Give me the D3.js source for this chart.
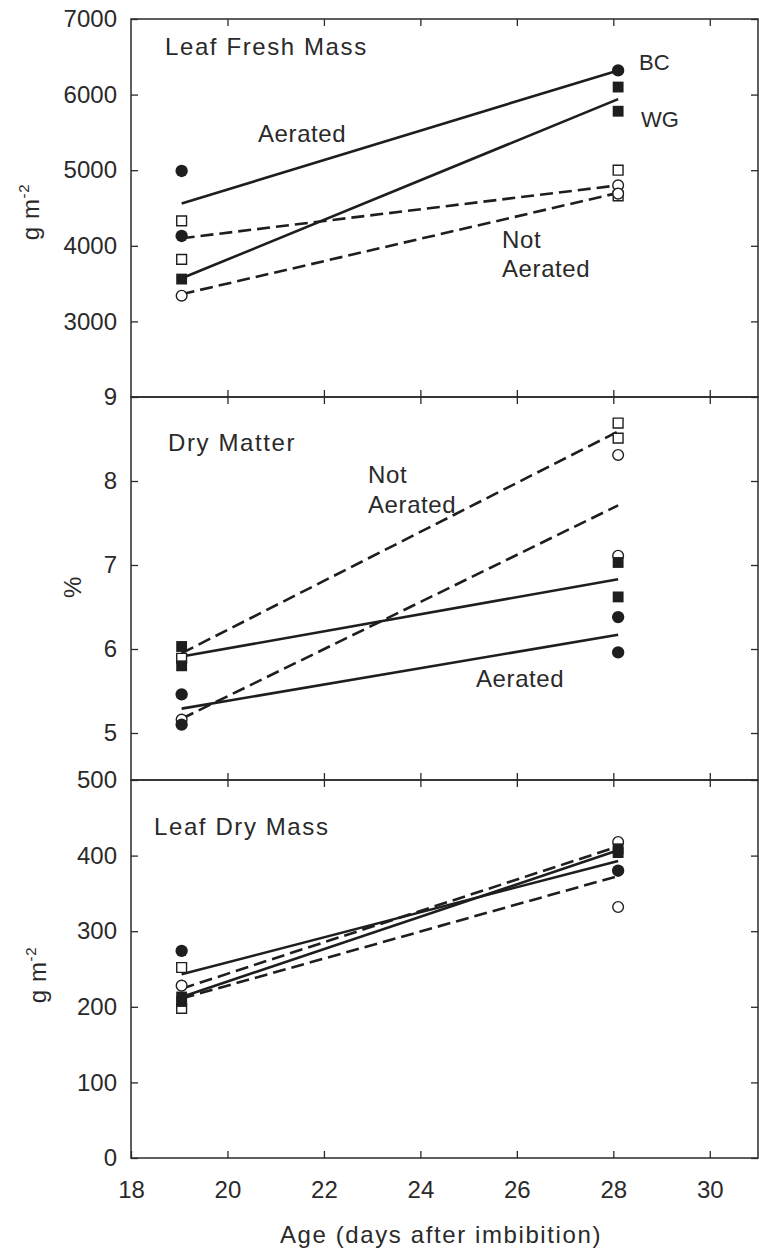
<!DOCTYPE html>
<html>
<head>
<meta charset="utf-8">
<script src="https://cdn.jsdelivr.net/npm/d3@7"></script>
<style>
    body { margin: 0; background: #fff; }
    svg { display: block; font-family: "Liberation Sans", Arial, sans-serif; }
    .tick line { stroke: #2a2a2a; stroke-width: 1.3; }
    .tick text { fill: #2a2a2a; font-size: 24px; }
    .label { fill: #2a2a2a; font-size: 24px; letter-spacing: 0.6px; }
    .label.title { letter-spacing: 1.6px; }
    .label.small { font-size: 22px; letter-spacing: 0; }
</style>
</head>
<body>
<div id="chart"></div>
<script>
// x: age in days after imbibition
const dayDomain = [18, 31];
const dayTicks = [18, 20, 22, 24, 26, 28, 30];
const sampleDays = [19.05, 28.1];

// group codes: cultivar (BC / WG) + aeration (A = aerated, N = not aerated)
// Leaf fresh mass (g m-2)
const freshTicks = [3000, 4000, 5000, 6000, 7000];
const freshPoints = [
    {day: 0, group: "BC-A", value: 4990},
    {day: 0, group: "WG-N", value: 4330},
    {day: 0, group: "BC-A", value: 4130},
    {day: 0, group: "WG-N", value: 3820},
    {day: 0, group: "WG-A", value: 3560},
    {day: 0, group: "BC-N", value: 3340},
    {day: 1, group: "BC-A", value: 6320},
    {day: 1, group: "WG-A", value: 6100},
    {day: 1, group: "WG-A", value: 5780},
    {day: 1, group: "WG-N", value: 5000},
    {day: 1, group: "WG-N", value: 4660},
    {day: 1, group: "BC-N", value: 4800},
    {day: 1, group: "BC-N", value: 4690}
];
const freshLines = [
    {aeration: "A", values: [4560, 6320]},
    {aeration: "A", values: [3570, 5940]},
    {aeration: "N", values: [4100, 4800]},
    {aeration: "N", values: [3360, 4700]}
];

// Dry matter (%)
const dryTicks = [5, 6, 7, 8, 9];
const dryPoints = [
    {day: 0, group: "WG-A", value: 6.03},
    {day: 0, group: "WG-N", value: 5.89},
    {day: 0, group: "WG-A", value: 5.80},
    {day: 0, group: "BC-A", value: 5.46},
    {day: 0, group: "BC-N", value: 5.16},
    {day: 0, group: "BC-A", value: 5.10},
    {day: 1, group: "WG-N", value: 8.69},
    {day: 1, group: "WG-N", value: 8.51},
    {day: 1, group: "BC-N", value: 8.31},
    {day: 1, group: "BC-N", value: 7.11},
    {day: 1, group: "WG-A", value: 7.03},
    {day: 1, group: "WG-A", value: 6.62},
    {day: 1, group: "BC-A", value: 6.38},
    {day: 1, group: "BC-A", value: 5.96}
];
const dryLines = [
    {aeration: "N", values: [5.95, 8.59]},
    {aeration: "N", values: [5.17, 7.71]},
    {aeration: "A", values: [5.91, 6.83]},
    {aeration: "A", values: [5.29, 6.17]}
];

// Leaf dry mass (g m-2)
const massTicks = [0, 100, 200, 300, 400, 500];
const massPoints = [
    {day: 0, group: "BC-A", value: 274},
    {day: 0, group: "WG-N", value: 252},
    {day: 0, group: "BC-N", value: 228},
    {day: 0, group: "WG-N", value: 198},
    {day: 0, group: "WG-A", value: 213},
    {day: 0, group: "WG-A", value: 207},
    {day: 1, group: "BC-N", value: 418},
    {day: 1, group: "WG-A", value: 409},
    {day: 1, group: "WG-A", value: 404},
    {day: 1, group: "BC-A", value: 380},
    {day: 1, group: "BC-N", value: 332}
];
const massLines = [
    {aeration: "N", values: [224, 412]},
    {aeration: "A", values: [213, 407]},
    {aeration: "A", values: [243, 393]},
    {aeration: "N", values: [211, 373]}
];

const width = 759, height = 1255;
const left = 131, right = 758;

const svg = d3.select("#chart").append("svg")
    .attr("width", width)
    .attr("height", height);

const x = d3.scaleLinear().domain(dayDomain).range([left, right]);

class Panel {
    constructor(cfg) {
        this.cfg = cfg;
        this.initVis();
    }

    initVis() {
        let vis = this;
        let c = vis.cfg;

        vis.y = d3.scaleLinear().domain(c.domain).range([c.bottom, c.top]);
        vis.g = svg.append("g");

        // frame
        vis.g.append("rect")
            .attr("x", left).attr("y", c.top)
            .attr("width", right - left).attr("height", c.bottom - c.top)
            .attr("fill", "none")
            .attr("stroke", "#2a2a2a")
            .attr("stroke-width", 1.5);

        // inward ticks on all four sides
        vis.g.append("g")
            .attr("transform", `translate(${left},0)`)
            .call(d3.axisLeft(vis.y).tickValues(c.ticks).tickFormat(d3.format("d"))
                .tickSizeInner(-7).tickSizeOuter(0).tickPadding(14))
            .call(g => g.select(".domain").remove())
            .call(g => g.selectAll(".tick text").attr("font-family", null).attr("font-size", null));

        vis.g.append("g")
            .attr("transform", `translate(${right},0)`)
            .call(d3.axisRight(vis.y).tickValues(c.ticks).tickSizeInner(-7).tickSizeOuter(0).tickFormat(""))
            .call(g => g.select(".domain").remove());

        vis.g.append("g")
            .attr("transform", `translate(0,${c.top})`)
            .call(d3.axisTop(x).tickValues(dayTicks.slice(1)).tickSizeInner(-7).tickSizeOuter(0).tickFormat(""))
            .call(g => g.select(".domain").remove());

        let bottomAxis = d3.axisBottom(x).tickSizeInner(-7).tickSizeOuter(0).tickPadding(23);
        if (c.showX) bottomAxis.tickValues(dayTicks).tickFormat(d3.format("d"));
        else bottomAxis.tickValues(dayTicks.slice(1)).tickFormat("");
        vis.g.append("g")
            .attr("transform", `translate(0,${c.bottom})`)
            .call(bottomAxis)
            .call(g => g.select(".domain").remove())
            .call(g => g.selectAll(".tick text").attr("font-family", null).attr("font-size", null));

        vis.updateVis();
    }

    updateVis() {
        let vis = this;
        let c = vis.cfg;

        // fitted lines, solid = aerated, dashed = not aerated
        vis.g.selectAll(".fit")
            .data(c.lines)
            .join("line")
            .attr("class", "fit")
            .attr("x1", x(sampleDays[0]))
            .attr("x2", x(sampleDays[1]))
            .attr("y1", d => vis.y(d.values[0]))
            .attr("y2", d => vis.y(d.values[1]))
            .attr("stroke", "#1e1e1e")
            .attr("stroke-width", 2.6)
            .attr("stroke-dasharray", d => d.aeration === "N" ? "13,6" : null);

        // markers: circle = BC, square = WG; filled = aerated, open = not aerated
        const symbolFor = grp => {
            let isCircle = grp.startsWith("BC");
            let filled = grp.endsWith("A");
            let size = isCircle ? (filled ? 120 : 90) : (filled ? 118 : 96);
            return d3.symbol().type(isCircle ? d3.symbolCircle : d3.symbolSquare).size(size)();
        };

        vis.g.selectAll(".pt")
            .data(c.points)
            .join("path")
            .attr("class", "pt")
            .attr("transform", d => `translate(${x(sampleDays[d.day])},${vis.y(d.value)})`)
            .attr("d", d => symbolFor(d.group))
            .attr("fill", d => d.group.endsWith("A") ? "#1e1e1e" : "#fff")
            .attr("stroke", "#1e1e1e")
            .attr("stroke-width", d => d.group.endsWith("A") ? 0 : 1.4);

        // annotations
        vis.g.selectAll(".label")
            .data(c.labels)
            .join("text")
            .attr("class", d => "label " + (d[3] || ""))
            .attr("x", d => d[1])
            .attr("y", d => d[2])
            .text(d => d[0]);

        // y axis title
        let t = vis.g.append("text")
            .attr("class", "label")
            .attr("text-anchor", "middle")
            .attr("transform", `translate(${c.title[0]},${c.title[1]}) rotate(-90)`);
        t.append("tspan").text(c.unit);
        if (c.sup) {
            t.append("tspan").attr("dy", -10).attr("font-size", 15).text(c.sup);
        }
    }
}

new Panel({
    top: 19, bottom: 397, domain: [2000, 7000], ticks: freshTicks,
    points: freshPoints, lines: freshLines, showX: false,
    unit: "g m", sup: "-2", title: [39, 212],
    labels: [["Leaf Fresh Mass", 165, 55, "title"], ["Aerated", 258, 142], ["BC", 639, 70, "small"],
             ["WG", 641, 127, "small"], ["Not", 502, 248], ["Aerated", 502, 277]]
});

new Panel({
    top: 397, bottom: 780, domain: [9 - 383 / 84, 9], ticks: dryTicks,
    points: dryPoints, lines: dryLines, showX: false,
    unit: "%", sup: null, title: [81, 587],
    labels: [["Dry Matter", 168, 451, "title"], ["Not", 368, 483], ["Aerated", 368, 513],
             ["Aerated", 476, 687]]
});

new Panel({
    top: 780, bottom: 1158, domain: [0, 500], ticks: massTicks,
    points: massPoints, lines: massLines, showX: true,
    unit: "g m", sup: "-2", title: [46, 975],
    labels: [["Leaf Dry Mass", 154, 835, "title"]]
});

svg.append("text")
    .attr("class", "label title")
    .attr("text-anchor", "middle")
    .attr("x", 441)
    .attr("y", 1243)
    .text("Age (days after imbibition)");
</script>
</body>
</html>
